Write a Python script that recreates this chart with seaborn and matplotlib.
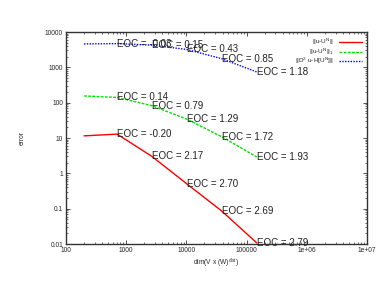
import numpy as np
import pandas as pd
import matplotlib
matplotlib.use('Agg')
import matplotlib.pyplot as plt
import seaborn as sns

# degrees of freedom
dims = [200, 708, 2690, 10230, 38900, 147900]

err_l2 = [11.5, 12.9, 3.0, 0.5, 0.085, 0.0107]
err_h1 = [155, 141, 82, 34, 10.8, 2.9]
err_h2 = [4600, 4700, 4250, 3200, 1750, 740]

eoc_l2 = ['-0.20', '2.17', '2.70', '2.69', '2.79']
eoc_h1 = ['0.14', '0.79', '1.29', '1.72', '1.93']
eoc_h2 = ['-0.03', '0.15', '0.43', '0.85', '1.18']

labels = [r'||u-U$^{\rm N}$||', r'||u-U$^{\rm N}$||$_1$', r'||D$^2$ u-H[U$^{\rm N}$]||']

sns.set_style('ticks')
plt.rcParams['font.family'] = ['Liberation Sans', 'DejaVu Sans']
plt.rcParams['mathtext.fontset'] = 'custom'
plt.rcParams['mathtext.rm'] = 'Liberation Sans'

fig = plt.figure(figsize=(3.9, 3.02), dpi=100)
ax = fig.add_axes([0.169, 0.192, 0.772, 0.702])

series = [(err_l2, eoc_l2, '#ff0000', '-'),
          (err_h1, eoc_h1, '#00e000', (0, (2, 1))),
          (err_h2, eoc_h2, '#0000ff', (0, (1, 1)))]

for (errs, eocs, col, ls), lab in zip(series, labels):
    df = pd.DataFrame({'dim': dims, 'err': errs})
    sns.lineplot(data=df, x='dim', y='err', ax=ax, color=col, linestyle=ls,
                 linewidth=1.0, label=lab)
    for d, e, t in zip(dims[1:], errs[1:], eocs):
        ax.text(d, e, 'EOC = ' + t, fontsize=7, ha='left', va='center',
                color='#222222')

ax.set_xscale('log')
ax.set_yscale('log')
ax.set_xlim(100, 1e7)
ax.set_ylim(0.01, 10000)
ax.set_xticks([100, 1000, 10000, 100000, 1e6, 1e7])
ax.set_xticklabels(['100', '1000', '10000', '100000', '1e+06', '1e+07'])
ax.set_yticks([0.01, 0.1, 1, 10, 100, 1000, 10000])
ax.set_yticklabels(['0.01', '0.1', '1', '10', '100', '1000', '10000'])
ax.tick_params(which='both', direction='in', top=True, right=True,
               labelsize=4.8, color='#333333', pad=2)
ax.tick_params(which='major', length=3, width=0.6)
ax.tick_params(which='minor', length=1.5, width=0.5)
for s in ax.spines.values():
    s.set_color('#333333')
    s.set_linewidth(1.0)

ax.set_xlabel(r'dim(V x (W)$^{\rm dist}$)', fontsize=4.8, labelpad=2)
ax.set_ylabel('error', fontsize=4.8, labelpad=14)

ax.legend(loc='upper right', fontsize=4.6, frameon=False, markerfirst=False,
          handlelength=3.6, labelspacing=-0.12, borderaxespad=0.7,
          handletextpad=0.8, borderpad=0.1)

fig.savefig('out.png', dpi=100)
